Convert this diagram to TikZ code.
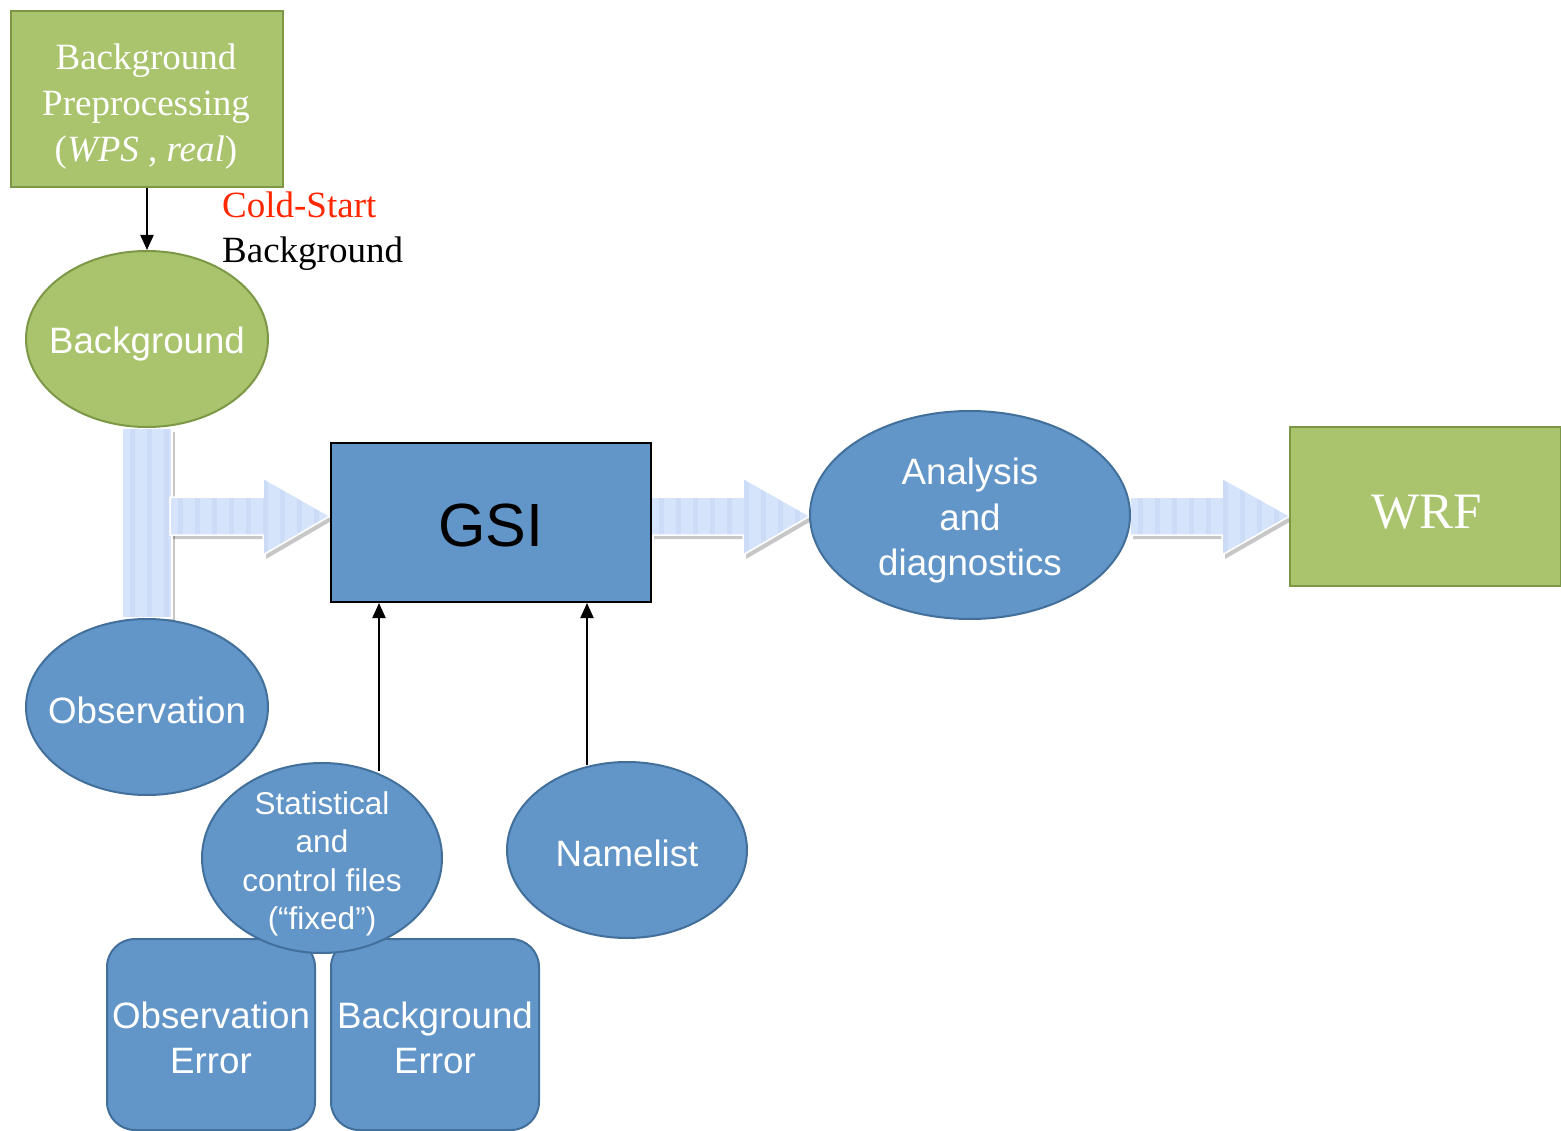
\documentclass[tikz,border=0pt]{standalone}
\usepackage{fontspec}
\setmainfont{Liberation Serif}
\setsansfont{Liberation Sans}
\usetikzlibrary{shapes.geometric,arrows.meta,shadows}
\definecolor{grn}{RGB}{170,196,110}
\definecolor{grnd}{RGB}{124,152,70}
\definecolor{blu}{RGB}{98,149,200}
\definecolor{blud}{RGB}{66,112,155}
\definecolor{lbl}{RGB}{213,228,251}
\definecolor{lbs}{RGB}{204,220,246}
\definecolor{cred}{RGB}{255,38,0}
\begin{document}
\begin{tikzpicture}[x=1pt,y=-1pt,
  gbox/.style={draw=grnd,fill=grn,line width=2pt,inner sep=0pt},
  bbox/.style={draw=blud,fill=blu,line width=2pt,inner sep=0pt,rounded corners=28pt},
  ell/.style={ellipse,draw=blud,fill=blu,line width=2pt,inner sep=0pt},
  gell/.style={ellipse,draw=grnd,fill=grn,line width=2pt,inner sep=0pt},
  wsans/.style={text=white,font=\fontsize{36.7}{45.5}\selectfont\sffamily,align=center,inner sep=0pt},
  wsmall/.style={text=white,font=\fontsize{31.5}{38.5}\selectfont\sffamily,align=center,inner sep=0pt},
  wser/.style={text=white,font=\fontsize{37}{46}\selectfont,align=center,inner sep=0pt},
  fat/.style={fill=lbl,draw=white,line width=1.5pt,
    drop shadow={shadow xshift=3pt,shadow yshift=-4pt,opacity=0.22,fill=black},
    path picture={\foreach \i in {0,...,10}
      \fill[lbs] ([xshift=\i*17pt+8pt]path picture bounding box.south west) rectangle ++(5pt,300pt);}},
  thin/.style={line width=2pt,-{Triangle[length=15pt,width=13pt]}},
]
\useasboundingbox (0,0) rectangle (1561,1131);

% fat light-blue arrows
\path[fat] (122,428) rectangle (172,618);
\path[fat] (170,497) -- (263,497) -- (263,478) -- (330,516) -- (263,555) -- (263,535) -- (170,535) -- cycle;
\path[fat] (651,497) -- (743,497) -- (743,478) -- (810,516) -- (743,555) -- (743,535) -- (651,535) -- cycle;
\path[fat] (1130,497) -- (1222,497) -- (1222,478) -- (1290,516) -- (1222,555) -- (1222,535) -- (1130,535) -- cycle;

% background preprocessing
\node[gbox, minimum width=272pt, minimum height=176pt] (bgp) at (147,99) {};
\node[wser] (bgpt) at (146,107) {Background\\Preprocessing\\(\textit{WPS} , \textit{real})};

\node[gell, minimum width=242pt, minimum height=176pt] (bg) at (147,339) {};
\node[wsans] (bgt) at (147,344) {Background};
\draw[thin] (bgp.south) -- (bg.north);

\node[anchor=west, align=left, inner sep=0pt, font=\fontsize{37}{45}\selectfont] (cs) at (222,231) {\textcolor{cred}{Cold-Start}\\Background};

% observation
\node[ell, minimum width=242pt, minimum height=176pt] (obs) at (147,707) {};
\node[wsans] (obst) at (147,710) {Observation};

% GSI
\node[draw=black, fill=blu, line width=2pt, minimum width=320pt, minimum height=159pt, inner sep=0pt] (gsi) at (491,522.5) {};
\node[font=\fontsize{61}{70}\selectfont\sffamily, inner sep=0pt] (gsit) at (491,525.5) {GSI};

% analysis
\node[ell, minimum width=320pt, minimum height=208pt] (an) at (970,515) {};
\node[wsans] (ant) at (970,521) {Analysis\\and\\diagnostics};

% WRF
\node[gbox, minimum width=271pt, minimum height=159pt] (wrf) at (1425.5,506.5) {};
\node[text=white, font=\fontsize{51}{60}\selectfont, inner sep=0pt] (wrft) at (1427,512) {WRF};

% error boxes
\node[bbox, minimum width=208pt, minimum height=191pt] (oe) at (211,1034.5) {};
\node[wsans] (oet) at (211,1038) {Observation\\Error};
\node[bbox, minimum width=208pt, minimum height=191pt] (be) at (435,1034.5) {};
\node[wsans] (bet) at (435,1038) {Background\\Error};

% statistical files
\node[ell, minimum width=240pt, minimum height=190pt] (st) at (322,858) {};
\node[wsmall] (stt) at (322,864) {Statistical\\and\\control files\\(“fixed”)};

% namelist
\node[ell, minimum width=240pt, minimum height=176pt] (nl) at (627,850) {};
\node[wsans] (nlt) at (627,853) {Namelist};

% thin arrows into GSI
\coordinate (s1) at (379,771);
\coordinate (n1) at (587,765);
\draw[thin] (s1) -- (s1 |- gsi.south);
\draw[thin] (n1) -- (n1 |- gsi.south);
\end{tikzpicture}
\end{document}
